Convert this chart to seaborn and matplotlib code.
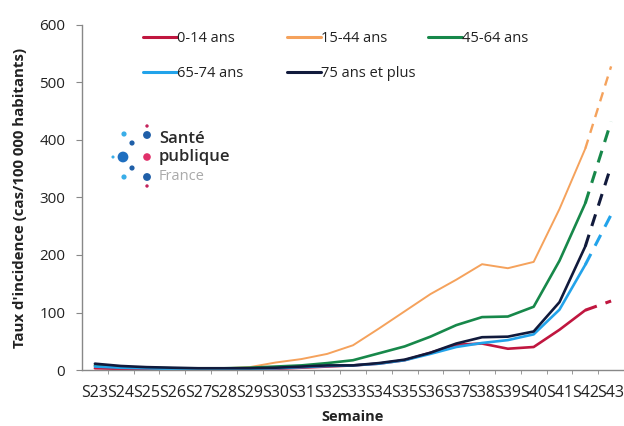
import numpy as np
import pandas as pd
import matplotlib
matplotlib.use("Agg")
import matplotlib.pyplot as plt
from matplotlib.lines import Line2D
import seaborn as sns

# data (incidence per 100 000, by week)
weeks = ['S23', 'S24', 'S25', 'S26', 'S27', 'S28', 'S29', 'S30', 'S31', 'S32', 'S33',
         'S34', 'S35', 'S36', 'S37', 'S38', 'S39', 'S40', 'S41', 'S42', 'S43']
age_0_14 = [3, 2, 2, 1, 1, 1, 1, 2, 4, 6, 8, 11, 17, 30, 44, 46, 37, 40, 70, 104, 120]
age_15_44 = [10, 6, 4, 3, 3, 3, 5, 13, 19, 28, 43, 72, 102, 132, 157, 184, 177, 188, 280, 385, 528]
age_45_64 = [8, 5, 4, 3, 3, 3, 4, 6, 8, 12, 17, 29, 41, 58, 78, 92, 93, 110, 190, 290, 432]
age_65_74 = [6, 4, 3, 2, 2, 2, 2, 3, 5, 7, 8, 11, 17, 28, 40, 47, 52, 62, 105, 183, 270]
age_75p = [11, 7, 5, 4, 3, 3, 3, 4, 6, 8, 8, 12, 18, 30, 46, 57, 58, 67, 118, 215, 355]

groups = ['0-14 ans', '15-44 ans', '45-64 ans', '65-74 ans', '75 ans et plus']
colors = ['#c0163f', '#f5a25c', '#17884a', '#22a3ea', '#111a3c']
widths = [1.9, 1.4, 1.9, 1.9, 1.9]
series = [age_0_14, age_15_44, age_45_64, age_65_74, age_75p]

rows = []
for g, vals in zip(groups, series):
    for i, (w, v) in enumerate(zip(weeks, vals)):
        rows.append({'idx': i, 'semaine': w, 'groupe': g, 'taux': v})
df = pd.DataFrame(rows)
last = len(weeks) - 1

sns.set_style("white")
plt.rcParams['font.family'] = ['Open Sans', 'DejaVu Sans']

fig = plt.figure(figsize=(6.24, 4.26), dpi=100)
ax = fig.add_axes([82 / 624, 1 - 370 / 426, 542 / 624, 345 / 426])

# solid up to S42, dashed last segment S42 -> S43 (provisional week)
for g, c, lw in zip(groups, colors, widths):
    sub = df[df['groupe'] == g]
    sns.lineplot(data=sub[sub['idx'] <= last - 1], x='idx', y='taux', color=c,
                 linewidth=lw, ax=ax, legend=False)
    sns.lineplot(data=sub[sub['idx'] >= last - 1], x='idx', y='taux', color=c,
                 linewidth=lw + 0.3, ax=ax, legend=False, linestyle=(0, (4, 3)))

ax.set_xlim(-0.5, last + 0.5)
ax.set_ylim(0, 600)
ax.set_yticks(np.arange(0, 601, 100))
ax.set_xticks(range(len(weeks)))
ax.set_xticklabels(weeks, fontsize=11.5, color='#222222')
ax.set_xticks(np.arange(0.5, last, 1), minor=True)
ax.tick_params(axis='x', which='major', length=0, pad=11)
ax.tick_params(axis='x', which='minor', length=3, color='#888888', direction='out', bottom=True)
ax.tick_params(axis='y', length=4, color='#888888', direction='out', left=True,
               labelsize=11, labelcolor='#222222', pad=8)
for s in ['top', 'right']:
    ax.spines[s].set_visible(False)
for s in ['left', 'bottom']:
    ax.spines[s].set_color('#888888')
    ax.spines[s].set_linewidth(1.0)

ax.set_xlabel('Semaine', fontsize=10.5, fontweight='bold', color='#222222', labelpad=6)
ax.set_ylabel("Taux d'incidence (cas/100 000 habitants)", fontsize=10.8, fontweight='bold',
              color='#222222', labelpad=9)

# legend: Excel-like fixed width columns -> one small legend per column
handles = [Line2D([], [], color=c, linewidth=2.2) for c in colors]
columns = [[0, 3], [1, 4], [2]]
col_x = [143, 287, 428]
for k, (cols, x0) in enumerate(zip(columns, col_x)):
    leg = ax.legend([handles[i] for i in cols], [groups[i] for i in cols],
                    loc='upper left', bbox_to_anchor=(x0 / 624, 1 - 31 / 426),
                    bbox_transform=fig.transFigure, frameon=False, fontsize=10.5,
                    handlelength=2.3, handletextpad=0.0, labelspacing=1.4,
                    borderpad=0, borderaxespad=0)
    for t in leg.get_texts():
        t.set_color('#222222')
    if k < len(columns) - 1:
        ax.add_artist(leg)

# Santé publique France logo
lax = fig.add_axes([0, 0, 1, 1], facecolor='none')
lax.set_xlim(0, 624)
lax.set_ylim(426, 0)
lax.axis('off')
dot_x = [147, 124, 147, 132, 113, 123, 147, 132, 124, 147, 147]
dot_y = [126, 134, 135, 143, 157, 157, 157, 168, 177, 177, 186]
dot_s = [6, 14, 32, 14, 5, 60, 30, 14, 14, 32, 6]
dot_c = ['#c4245c', '#3aaee8', '#1f5fa8', '#1f5fa8', '#3aaee8', '#1f6fc0',
         '#e0306a', '#1f5fa8', '#3aaee8', '#1f5fa8', '#c4245c']
lax.scatter(dot_x, dot_y, s=dot_s, c=dot_c, linewidths=0)
lax.text(159, 139, 'Santé', fontsize=12, fontweight='semibold', color='#2a2a2a', va='center', ha='left')
lax.text(159, 157, 'publique', fontsize=12, fontweight='semibold', color='#2a2a2a', va='center', ha='left')
lax.text(159, 176, 'France', fontsize=10.5, color='#aaaaaa', va='center', ha='left')

plt.savefig('out.png', dpi=100)
